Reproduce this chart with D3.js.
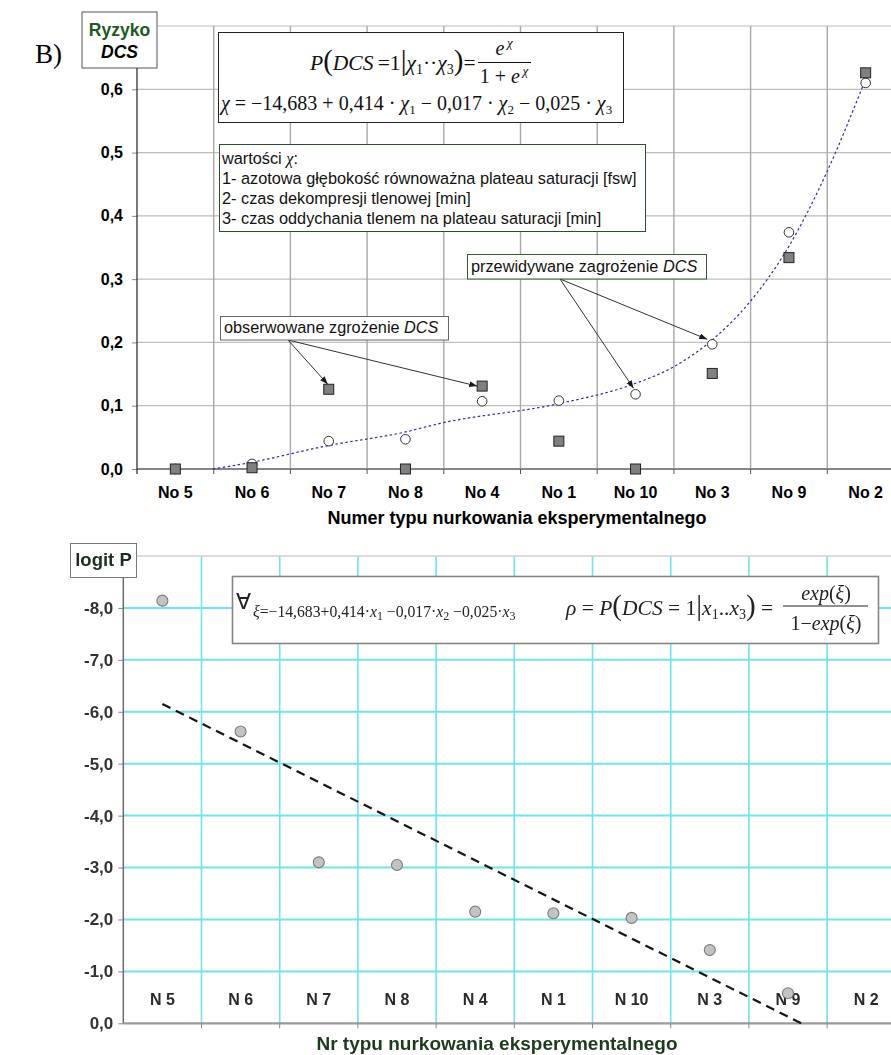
<!DOCTYPE html>
<html>
<head>
<meta charset="utf-8">
<script src="https://cdn.jsdelivr.net/npm/d3@7"></script>
<style>
  body { margin: 0; background: #fff; }
  svg { display: block; }
</style>
</head>
<body>
<svg id="chart" width="891" height="1055"></svg>
<script>
// ---------- Panel B (upper): DCS risk per dive type ----------
const riskCategories = ["No 5", "No 6", "No 7", "No 8", "No 4", "No 1", "No 10", "No 3", "No 9", "No 2"];
const observedRisk   = [0.000, 0.002, 0.126, 0.000, 0.131, 0.044, 0.000, 0.151, 0.334, 0.626];
const predictedRisk  = [0.000, 0.008, 0.044, 0.047, 0.107, 0.108, 0.118, 0.197, 0.374, 0.610];
// smooth trend through the predicted risk (position in category units, risk)
const trendIndex = [0.49, 0.97, 1.99, 2.98, 3.45, 4.99, 5.97, 6.49, 7.00, 7.49, 7.97, 8.49, 8.96];
const trendRisk  = [0.000, 0.010, 0.037, 0.058, 0.072, 0.103, 0.134, 0.161, 0.204, 0.264, 0.346, 0.468, 0.604];
const riskTicks = [0.0, 0.1, 0.2, 0.3, 0.4, 0.5, 0.6];

// ---------- Lower panel: logit P per dive type ----------
const logitCategories = ["N 5", "N 6", "N 7", "N 8", "N 4", "N 1", "N 10", "N 3", "N 9", "N 2"];
const logitValues = [-8.14, -5.62, -3.10, -3.05, -2.15, -2.12, -2.03, -1.41, -0.58, null];
const logitTrendIndex  = [0, 8.17];
const logitTrendValues = [-6.15, 0.0];
const logitTicks = [0, -1, -2, -3, -4, -5, -6, -7, -8];

const SANS = "'Liberation Sans', Arial, sans-serif";
const SERIF = "'Liberation Serif', 'Times New Roman', serif";

const svg = d3.select("#chart");
const defs = svg.append("defs");
defs.append("marker")
  .attr("id", "arrowHead")
  .attr("markerUnits", "userSpaceOnUse")
  .attr("markerWidth", 9).attr("markerHeight", 7)
  .attr("refX", 8).attr("refY", 3).attr("orient", "auto")
  .append("path").attr("d", "M0,0 L8,3 L0,6 Z").attr("fill", "#1a1a1a");
defs.append("filter").attr("id", "soft")
  .append("feGaussianBlur").attr("stdDeviation", 0.45);

const commaFmt = d => (d < 0 ? "-" : "") + Math.abs(d).toFixed(1).replace(".", ",");

function addRuns(parent, runs) {
  runs.forEach(r => {
    const t = parent.append("tspan").text(r.t);
    if (r.i) t.attr("font-style", "italic");
    if (r.fs) t.attr("font-size", r.fs);
    if (r.dy) t.attr("dy", r.dy);
  });
}

// ====================== upper chart ======================
const upper = svg.append("g");
const xTop = d3.scaleBand().domain(riskCategories).range([137, 904]);
const xTopIdx = d3.scaleLinear().domain([-0.5, 9.5]).range([137, 904]);
const yTop = d3.scaleLinear().domain([0, 0.7]).range([469, 26]);
const bwTop = xTop.bandwidth();

// panel letter
upper.append("text").attr("x", 35).attr("y", 63)
  .attr("font-family", SERIF).attr("font-size", 27).text("B)");

// horizontal grid
upper.append("g").selectAll("line").data(riskTicks.filter(d => d > 0)).join("line")
  .attr("x1", 137).attr("x2", 904)
  .attr("y1", d => yTop(d)).attr("y2", d => yTop(d))
  .attr("stroke", "#bdbdbd").attr("stroke-width", 1.2);
// frame line along the top
upper.append("line").attr("x1", 157).attr("x2", 904)
  .attr("y1", yTop(0.7)).attr("y2", yTop(0.7))
  .attr("stroke", "#bdbdbd").attr("stroke-width", 1.2);
// vertical grid at category boundaries
upper.append("g").selectAll("line").data(riskCategories.slice(1)).join("line")
  .attr("x1", d => xTop(d)).attr("x2", d => xTop(d))
  .attr("y1", yTop(0.7)).attr("y2", yTop(0))
  .attr("stroke", "#a9a9a9").attr("stroke-width", 1.4);

// y axis ticks + labels
const yAxisTop = upper.append("g").attr("transform", "translate(137,0)")
  .call(d3.axisLeft(yTop).tickValues(riskTicks).tickFormat(commaFmt).tickSize(5).tickPadding(9));
yAxisTop.select(".domain").remove();
yAxisTop.selectAll(".tick line").attr("stroke", "#8a8a8a");
yAxisTop.selectAll(".tick text")
  .attr("font-family", SANS).attr("font-size", 16).attr("font-weight", "bold").attr("fill", "#000");

// baseline, boundary ticks, category labels
upper.append("line").attr("x1", 137).attr("x2", 904).attr("y1", yTop(0)).attr("y2", yTop(0))
  .attr("stroke", "#868686").attr("stroke-width", 2.2);
upper.append("g").selectAll("line").data(riskCategories.slice(1)).join("line")
  .attr("x1", d => xTop(d)).attr("x2", d => xTop(d))
  .attr("y1", yTop(0)).attr("y2", yTop(0) + 5)
  .attr("stroke", "#555");
const xAxisTop = upper.append("g").attr("transform", `translate(0,${yTop(0)})`)
  .call(d3.axisBottom(xTop).tickSize(0).tickPadding(18));
xAxisTop.select(".domain").remove();
xAxisTop.selectAll(".tick text")
  .attr("font-family", SANS).attr("font-size", 16).attr("font-weight", "bold").attr("fill", "#000");

upper.append("text").attr("x", 517).attr("y", 524).attr("text-anchor", "middle")
  .attr("font-family", SANS).attr("font-size", 18).attr("font-weight", "bold")
  .text("Numer typu nurkowania eksperymentalnego");

// y axis line
upper.append("line").attr("x1", 137).attr("x2", 137).attr("y1", 68).attr("y2", yTop(0) + 5)
  .attr("stroke", "#222").attr("stroke-width", 1.2);

// "Ryzyko DCS" unit box
upper.append("rect").attr("x", 82).attr("y", 12).attr("width", 75).attr("height", 56)
  .attr("fill", "#fff").attr("stroke", "#555");
upper.append("text").attr("x", 119.5).attr("y", 36).attr("text-anchor", "middle")
  .attr("font-family", SANS).attr("font-size", 17.5).attr("font-weight", "bold").attr("fill", "#1d5a1d")
  .text("Ryzyko");
upper.append("text").attr("x", 119.5).attr("y", 58).attr("text-anchor", "middle")
  .attr("font-family", SANS).attr("font-size", 17.5).attr("font-weight", "bold").attr("font-style", "italic")
  .text("DCS");

// formula box
upper.append("rect").attr("x", 218.5).attr("y", 32.5).attr("width", 405).attr("height", 90)
  .attr("fill", "#fff").attr("stroke", "#222");

const f1 = upper.append("text").attr("x", 310).attr("y", 70)
  .attr("font-family", SERIF).attr("font-size", 21.5).attr("fill", "#111");
addRuns(f1, [
  { t: "P", i: true }, { t: "(", fs: 29 }, { t: "DCS", i: true }, { t: "\u2009=1" }, { t: "|", fs: 29 },
  { t: "\u03c7", i: true }, { t: "1", fs: 14, dy: 4 }, { t: "\u00b7\u00b7", dy: -4 },
  { t: "\u03c7", i: true }, { t: "3", fs: 14, dy: 4 }, { t: ")", fs: 29, dy: -4 }, { t: "=" }
]);
const fn = upper.append("text").attr("x", 504).attr("y", 55).attr("text-anchor", "middle")
  .attr("font-family", SERIF).attr("font-size", 20).attr("fill", "#111");
addRuns(fn, [{ t: "e", i: true }, { t: "\u2009\u03c7", i: true, fs: 13, dy: -8 }]);
upper.append("line").attr("x1", 478).attr("x2", 531).attr("y1", 62.5).attr("y2", 62.5)
  .attr("stroke", "#111").attr("stroke-width", 1);
const fd = upper.append("text").attr("x", 504).attr("y", 83).attr("text-anchor", "middle")
  .attr("font-family", SERIF).attr("font-size", 20).attr("fill", "#111");
addRuns(fd, [{ t: "1 + " }, { t: "e", i: true }, { t: "\u2009\u03c7", i: true, fs: 13, dy: -8 }]);

const f2 = upper.append("text").attr("x", 221).attr("y", 110)
  .attr("font-family", SERIF).attr("font-size", 20).attr("fill", "#111");
addRuns(f2, [
  { t: "\u03c7", i: true }, { t: " = \u221214,683 + 0,414 \u00b7 " }, { t: "\u03c7", i: true },
  { t: "1", fs: 13, dy: 4 }, { t: " \u2212 0,017 \u00b7 ", dy: -4 }, { t: "\u03c7", i: true },
  { t: "2", fs: 13, dy: 4 }, { t: " \u2212 0,025 \u00b7 ", dy: -4 }, { t: "\u03c7", i: true },
  { t: "3", fs: 13, dy: 4 }
]);

// explanation box for the χ variables
upper.append("rect").attr("x", 219.5).attr("y", 144.5).attr("width", 426).attr("height", 87)
  .attr("fill", "#fff").attr("stroke", "#2c4f2c");
const legendLines = [
  "1- azotowa g\u0142\u0119boko\u015b\u0107 r\u00f3wnowa\u017cna plateau saturacji [fsw]",
  "2- czas dekompresji tlenowej [min]",
  "3- czas oddychania tlenem na plateau saturacji [min]"
];
const l0 = upper.append("text").attr("x", 222).attr("y", 164)
  .attr("font-family", SANS).attr("font-size", 16.3).attr("fill", "#111");
l0.append("tspan").text("warto\u015bci ");
l0.append("tspan").attr("font-family", SERIF).attr("font-style", "italic").text("\u03c7");
l0.append("tspan").text(":");
legendLines.forEach((s, i) => {
  upper.append("text").attr("x", 222).attr("y", 184 + i * 20)
    .attr("font-family", SANS).attr("font-size", 16.3).attr("fill", "#111").text(s);
});

// trend curve
const trendPts = trendIndex.map((d, i) => [d, trendRisk[i]]);
upper.append("path").datum(trendPts)
  .attr("d", d3.line().x(d => xTopIdx(d[0])).y(d => yTop(d[1])).curve(d3.curveMonotoneX))
  .attr("fill", "none").attr("stroke", "#2b2bb0").attr("stroke-width", 1.2)
  .attr("stroke-dasharray", "2.5,2.5");

// predicted (circles) and observed (squares)
upper.append("g").selectAll("circle").data(riskCategories).join("circle")
  .attr("cx", d => xTop(d) + bwTop / 2).attr("cy", (d, i) => yTop(predictedRisk[i])).attr("r", 4.8)
  .attr("fill", "#fff").attr("stroke", "#333").attr("stroke-width", 1);
upper.append("g").selectAll("rect").data(riskCategories).join("rect")
  .attr("x", d => xTop(d) + bwTop / 2 - 5).attr("y", (d, i) => yTop(observedRisk[i]) - 5)
  .attr("width", 10).attr("height", 10)
  .attr("fill", "#808080").attr("stroke", "#222").attr("stroke-width", 1);

// annotation callouts
const callouts = [
  { label: "obserwowane zgro\u017cenie ", box: [220.5, 316.5, 228, 23.5], stroke: "#666", tx: 224, ty: 333,
    from: [288, 340], to: [["No 7", observedRisk[2], -1, -5], ["No 4", observedRisk[4], -5, 0]] },
  { label: "przewidywane zagro\u017cenie ", box: [467.5, 254.5, 239, 24.5], stroke: "#2c5f2c", tx: 471, ty: 272,
    from: [560, 279], to: [["No 10", predictedRisk[6], -2, -6], ["No 3", predictedRisk[7], -5, -5]] }
];
callouts.forEach(c => {
  c.to.forEach(([cat, v, dx, dy]) => {
    upper.append("line").attr("x1", c.from[0]).attr("y1", c.from[1])
      .attr("x2", xTop(cat) + bwTop / 2 + dx).attr("y2", yTop(v) + dy)
      .attr("stroke", "#333").attr("stroke-width", 1).attr("marker-end", "url(#arrowHead)");
  });
  upper.append("rect").attr("x", c.box[0]).attr("y", c.box[1]).attr("width", c.box[2]).attr("height", c.box[3])
    .attr("fill", "#fff").attr("stroke", c.stroke);
  const t = upper.append("text").attr("x", c.tx).attr("y", c.ty)
    .attr("font-family", SANS).attr("font-size", 16.3).attr("fill", "#111");
  t.append("tspan").text(c.label);
  t.append("tspan").attr("font-style", "italic").text("DCS");
});

// ====================== lower chart ======================
const lower = svg.append("g").attr("filter", "url(#soft)");
const xBot = d3.scaleBand().domain(logitCategories).range([123.3, 905.3]);
const xBotIdx = d3.scaleLinear().domain([-0.5, 9.5]).range([123.3, 905.3]);
const yBot = d3.scaleLinear().domain([0, -9]).range([1023.3, 556]);
const bwBot = xBot.bandwidth();
const CYAN = "#6fe3ec";

lower.append("g").selectAll("line").data(logitCategories.slice(1)).join("line")
  .attr("x1", d => xBot(d)).attr("x2", d => xBot(d))
  .attr("y1", yBot(-9)).attr("y2", yBot(0))
  .attr("stroke", CYAN).attr("stroke-width", 1.6);
lower.append("g").selectAll("line").data(logitTicks.filter(d => d < 0)).join("line")
  .attr("x1", 123.3).attr("x2", 905.3)
  .attr("y1", d => yBot(d)).attr("y2", d => yBot(d))
  .attr("stroke", CYAN).attr("stroke-width", 2);
lower.append("line").attr("x1", 137).attr("x2", 905.3).attr("y1", yBot(-9)).attr("y2", yBot(-9))
  .attr("stroke", "#cfcfcf").attr("stroke-width", 1.5);

const yAxisBot = lower.append("g").attr("transform", "translate(123.3,0)")
  .call(d3.axisLeft(yBot).tickValues(logitTicks).tickFormat(commaFmt).tickSize(5).tickPadding(5));
yAxisBot.select(".domain").remove();
yAxisBot.selectAll(".tick line").attr("stroke", "#888");
yAxisBot.selectAll(".tick text")
  .attr("font-family", SANS).attr("font-size", 17).attr("font-weight", "bold").attr("fill", "#333");

lower.append("line").attr("x1", 123.3).attr("x2", 905.3).attr("y1", yBot(0)).attr("y2", yBot(0))
  .attr("stroke", "#9a9a9a").attr("stroke-width", 2.2);
lower.append("g").selectAll("line").data(logitCategories.slice(1)).join("line")
  .attr("x1", d => xBot(d)).attr("x2", d => xBot(d))
  .attr("y1", yBot(0)).attr("y2", yBot(0) + 5)
  .attr("stroke", "#888");
lower.append("line").attr("x1", 123.3).attr("x2", 123.3).attr("y1", 578).attr("y2", yBot(0))
  .attr("stroke", "#6a6a6a").attr("stroke-width", 1.5);

// category labels sit just above the baseline
const xAxisBot = lower.append("g").attr("transform", `translate(0,${yBot(0)})`)
  .call(d3.axisBottom(xBot).tickSize(0));
xAxisBot.select(".domain").remove();
xAxisBot.selectAll(".tick text").attr("y", -18).attr("dy", 0)
  .attr("font-family", SANS).attr("font-size", 16).attr("font-weight", "bold").attr("fill", "#2a2a2a");

lower.append("text").attr("x", 497).attr("y", 1050).attr("text-anchor", "middle")
  .attr("font-family", SANS).attr("font-size", 19).attr("font-weight", "bold").attr("fill", "#1f3a1f")
  .text("Nr typu nurkowania eksperymentalnego");

// "logit P" unit box
lower.append("rect").attr("x", 70.5).attr("y", 543.5).attr("width", 66).attr("height", 34)
  .attr("fill", "#fff").attr("stroke", "#777");
lower.append("text").attr("x", 103.5).attr("y", 566).attr("text-anchor", "middle")
  .attr("font-family", SANS).attr("font-size", 18.5).attr("font-weight", "bold").attr("fill", "#1c2e1c")
  .text("logit P");

// formula box
lower.append("rect").attr("x", 232.5).attr("y", 576.5).attr("width", 646).attr("height", 67)
  .attr("fill", "#fff").attr("stroke", "#858585").attr("stroke-width", 1.6);
lower.append("text").attr("x", 236).attr("y", 609)
  .attr("font-family", SERIF).attr("font-size", 22).attr("fill", "#222").text("\u2200");
const g1 = lower.append("text").attr("x", 253).attr("y", 617)
  .attr("font-family", SERIF).attr("font-size", 15.7).attr("fill", "#222");
addRuns(g1, [
  { t: "\u03be", i: true }, { t: "=\u221214,683+0,414\u00b7" }, { t: "x", i: true }, { t: "1", fs: 12, dy: 3 },
  { t: " \u22120,017\u00b7", dy: -3 }, { t: "x", i: true }, { t: "2", fs: 12, dy: 3 },
  { t: " \u22120,025\u00b7", dy: -3 }, { t: "x", i: true }, { t: "3", fs: 12, dy: 3 }
]);
const g2 = lower.append("text").attr("x", 566).attr("y", 615)
  .attr("font-family", SERIF).attr("font-size", 21.5).attr("fill", "#222");
addRuns(g2, [
  { t: "\u03c1", i: true }, { t: " = " }, { t: "P", i: true }, { t: "(", fs: 29 }, { t: "DCS", i: true },
  { t: " = 1" }, { t: "|", fs: 29 }, { t: "x", i: true }, { t: "1", fs: 14, dy: 4 }, { t: "..", dy: -4 },
  { t: "x", i: true }, { t: "3", fs: 14, dy: 4 }, { t: ")", fs: 29, dy: -4 }, { t: " =" }
]);
const gn = lower.append("text").attr("x", 826).attr("y", 600).attr("text-anchor", "middle")
  .attr("font-family", SERIF).attr("font-size", 20).attr("fill", "#222");
addRuns(gn, [{ t: "exp", i: true }, { t: "(" }, { t: "\u03be", i: true }, { t: ")" }]);
lower.append("line").attr("x1", 783).attr("x2", 868).attr("y1", 606).attr("y2", 606)
  .attr("stroke", "#222").attr("stroke-width", 1);
const gd = lower.append("text").attr("x", 826).attr("y", 630).attr("text-anchor", "middle")
  .attr("font-family", SERIF).attr("font-size", 20).attr("fill", "#222");
addRuns(gd, [{ t: "1\u2212" }, { t: "exp", i: true }, { t: "(" }, { t: "\u03be", i: true }, { t: ")" }]);

// linear trend of logit P
const logitTrend = logitTrendIndex.map((d, i) => [d, logitTrendValues[i]]);
lower.append("path").datum(logitTrend)
  .attr("d", d3.line().x(d => xBotIdx(d[0])).y(d => yBot(d[1])))
  .attr("fill", "none").attr("stroke", "#141414").attr("stroke-width", 2.2)
  .attr("stroke-dasharray", "9,6");

// logit P points
lower.append("g").selectAll("circle")
  .data(logitCategories.map((c, i) => ({ c, v: logitValues[i] })).filter(d => d.v !== null))
  .join("circle")
  .attr("cx", d => xBot(d.c) + bwBot / 2).attr("cy", d => yBot(d.v)).attr("r", 5.5)
  .attr("fill", "#c3c3c3").attr("stroke", "#7a7a7a").attr("stroke-width", 1.1);
</script>
</body>
</html>
